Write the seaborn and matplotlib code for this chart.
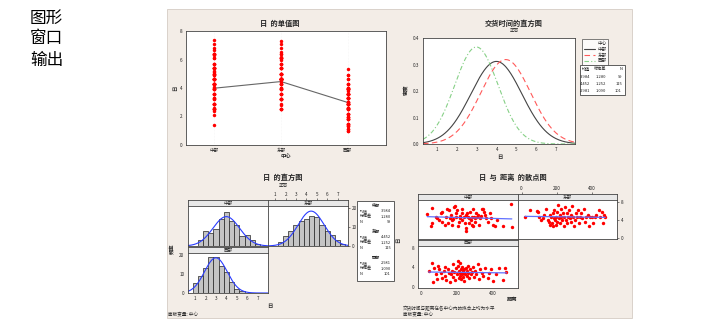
import numpy as np
import pandas as pd
import matplotlib
matplotlib.use("Agg")
import matplotlib.pyplot as plt
import seaborn as sns
from matplotlib.patches import Rectangle
from matplotlib.lines import Line2D

sns.set_theme(style="white")
plt.rcParams["font.family"] = ["Noto Sans CJK SC", "DejaVu Sans"]

# ---------------- data ----------------
centers = ["中部", "东部", "西部"]
means = [3.984, 4.452, 2.981]
sds = [1.280, 1.252, 1.090]
ns = [99, 115, 101]

hist_mid = [1.0, 1.5, 2.0, 2.5, 3.0, 3.5, 4.0, 4.5, 5.0, 5.5, 6.0, 6.5, 7.0, 7.5]
hist_central = [0, 3, 8, 7, 9, 14, 18, 13, 11, 5, 6, 3, 1, 0]
hist_eastern = [0, 2, 5, 8, 11, 13, 14, 16, 15, 11, 8, 6, 3, 1]
hist_western = [5, 9, 13, 19, 19, 14, 11, 6, 2, 1, 0, 0, 0, 0]

central_dist = [32, 60, 55, 57, 80, 88, 98, 108, 117, 117, 132, 136, 145, 155, 164, 170, 174, 183,
                188, 192, 196, 202, 208, 211, 220, 226, 230, 240, 245, 249, 253, 258, 264, 268, 272,
                277, 283, 287, 291, 296, 300, 304, 308, 313, 321, 325, 330, 340, 345, 355, 360, 366,
                377, 387, 395, 405, 415, 428, 460, 505, 510, 230, 250, 180, 160, 150, 270, 335, 290, 215]
central_days = [5.2, 6.7, 2.6, 3.3, 4.6, 4.3, 3.9, 5.4, 5.7, 3.6, 2.9, 4.6, 6.4, 6.1, 5.0, 3.9, 2.9, 6.8,
                7.1, 5.4, 4.6, 6.1, 2.5, 3.6, 4.3, 5.4, 6.4, 4.6, 3.2, 2.1, 1.4, 5.4, 4.6, 4.3, 5.7,
                3.9, 4.6, 2.9, 2.5, 4.6, 4.3, 3.6, 5.4, 4.6, 5.0, 2.9, 4.3, 6.4, 6.4, 5.7, 5.0, 4.3,
                3.6, 5.4, 4.3, 2.9, 2.5, 3.9, 2.5, 7.4, 2.4, 4.0, 5.1, 4.1, 4.3, 3.3, 3.2, 4.9, 6.3, 4.9]

eastern_dist = [20, 50, 90, 95, 100, 110, 120, 130, 140, 150, 155, 160, 165, 170, 175, 178, 180, 185,
                188, 190, 195, 198, 200, 205, 210, 212, 218, 220, 225, 228, 232, 238, 240, 245, 248,
                252, 258, 262, 266, 270, 275, 280, 285, 290, 295, 300, 305, 310, 318, 322, 330, 335,
                340, 348, 355, 360, 370, 378, 385, 392, 400, 410, 418, 425, 440, 450, 460, 465, 478, 470]
eastern_days = [4.6, 6.2, 6.0, 5.7, 4.6, 3.9, 4.4, 5.0, 6.5, 4.0, 3.6, 5.0, 2.8, 4.6, 3.2, 2.5, 5.4, 4.3,
                6.1, 3.9, 2.9, 4.6, 5.7, 3.6, 7.3, 4.3, 5.0, 3.2, 6.4, 4.6, 3.9, 5.4, 2.5, 4.6, 6.8,
                4.0, 5.4, 3.2, 4.6, 6.1, 4.3, 3.6, 5.0, 7.1, 4.6, 2.5, 3.9, 5.4, 4.6, 6.1, 3.2, 4.6,
                5.4, 4.3, 6.4, 3.6, 4.6, 5.0, 2.5, 4.6, 4.6, 3.2, 4.6, 5.0, 6.1, 4.6, 5.7, 3.2, 4.6, 5.0]

western_dist = [40, 60, 65, 70, 80, 85, 95, 100, 110, 118, 125, 130, 135, 140, 150, 155, 160, 165, 170,
                175, 180, 185, 190, 195, 200, 205, 208, 210, 212, 215, 218, 220, 222, 225, 228, 230,
                232, 235, 238, 240, 242, 245, 250, 255, 258, 262, 265, 270, 275, 280, 285, 290, 295,
                300, 310, 318, 325, 330, 340, 350, 360, 375, 380, 395, 405, 420, 440, 460, 480, 470]
western_days = [3.3, 4.9, 1.0, 3.9, 2.5, 1.5, 4.3, 3.6, 2.9, 1.8, 3.3, 4.0, 2.2, 1.4, 3.6, 2.9, 1.0, 2.5, 3.3,
                4.6, 2.0, 3.0, 1.3, 3.8, 2.6, 5.3, 4.3, 1.8, 3.3, 2.2, 4.9, 2.9, 3.6, 1.5, 2.5, 4.0,
                3.3, 2.0, 2.9, 3.6, 1.1, 2.6, 3.9, 3.3, 2.2, 4.3, 2.9, 1.8, 3.6, 2.5, 3.0, 4.0, 2.0,
                3.3, 2.6, 4.6, 1.5, 3.6, 2.9, 2.2, 3.9, 1.8, 2.9, 3.6, 1.1, 2.6, 3.9, 1.3, 3.0, 3.9]

# ---------------- layout helpers ----------------
W, H = 707, 332
fig = plt.figure(figsize=(W / 100, H / 100), dpi=100)
fig.patch.set_facecolor("white")


def box(l, t, r, b):
    return [l / W, 1 - b / H, (r - l) / W, (b - t) / H]


def ftext(x, y, s, **kw):
    fig.text(x / W, 1 - y / H, s, **kw)


fig.patches.append(Rectangle((167 / W, 1 - 318 / H), (632 - 167) / W, (318 - 9) / H,
                             transform=fig.transFigure, facecolor="#f3ede7",
                             edgecolor="#d5ccc4", lw=0.6, zorder=-5))

for i, s in enumerate(["图形", "窗口", "输出"]):
    ftext(30, 18 + i * 21, s, fontsize=12, va="center", ha="left", color="black",
          fontweight="medium")

TICK = 3.3
TITLE = 5.2


def style(ax):
    ax.set_facecolor("white")
    for sp in ax.spines.values():
        sp.set_color("#444444")
        sp.set_linewidth(0.6)
    ax.tick_params(labelsize=TICK, length=1.5, width=0.4, pad=1, colors="#222222")
    ax.set_xlabel("")
    ax.set_ylabel("")


def strip(l, t, r, b, label, xlim=None, xticks=None):
    sax = fig.add_axes(box(l, t, r, b))
    sax.set_facecolor("#e8e8e8")
    sax.set_yticks([])
    for sp in sax.spines.values():
        sp.set_color("#444444")
        sp.set_linewidth(0.6)
    if xticks is None:
        sax.set_xticks([])
    else:
        sax.set_xlim(*xlim)
        sax.set_xticks(xticks)
        sax.xaxis.tick_top()
        sax.tick_params(labelsize=TICK, length=1.5, width=0.4, pad=1, colors="#222222")
    sax.text(0.5, 0.5, label, ha="center", va="center", fontsize=TICK, transform=sax.transAxes)
    return sax


def npdf(x, m, s):
    return np.exp(-0.5 * ((x - m) / s) ** 2) / (s * np.sqrt(2 * np.pi))


# ---------------- panel 1: individual value plot ----------------
df = pd.DataFrame({
    "中心": ["中部"] * len(central_days) + ["东部"] * len(eastern_days) + ["西部"] * len(western_days),
    "日": central_days + eastern_days + western_days,
    "距离": central_dist + eastern_dist + western_dist,
})

ax1 = fig.add_axes(box(186, 31, 386, 145))
sns.stripplot(data=df, x="中心", y="日", order=centers, jitter=False, color="#ff0000",
              size=2.5, linewidth=0, ax=ax1)
ax1.plot(range(3), means, color="#666666", lw=0.8, zorder=1)
ax1.set_xlim(-0.42, 2.57)
ax1.set_ylim(0, 8)
ax1.set_yticks([0, 2, 4, 6, 8])
style(ax1)
for xv in range(3):
    ax1.axvline(xv, color="#eeeeee", lw=0.4, ls=":", zorder=0)
ftext(280, 23, "日  的单值图", fontsize=TITLE, fontweight="bold", ha="center", va="center")
ftext(286, 157, "中心", fontsize=TICK + 0.5, fontweight="bold", ha="center", va="center")
ftext(176, 88, "日", fontsize=TICK + 0.5, fontweight="bold", ha="center", va="center", rotation=90)

# ---------------- panel 2: fitted normal curves ----------------
ax2 = fig.add_axes(box(423, 38, 575, 144))
xs = np.linspace(0.3, 7.93, 200)
cols2 = ["#444444", "#ff5a5a", "#86d086"]
lss = ["-", (0, (5, 3)), (0, (4, 2, 1, 2))]
for c, m, s, col, ls in zip(centers, means, sds, cols2, lss):
    sns.lineplot(x=xs, y=npdf(xs, m, s), color=col, lw=0.8, linestyle=ls, ax=ax2)
ax2.set_xlim(0.3, 7.93)
ax2.set_ylim(0, 0.4)
ax2.set_xticks(range(1, 8))
ax2.set_yticks([0.0, 0.1, 0.2, 0.3, 0.4])
ax2.set_yticklabels(["0.0", "0.1", "0.2", "0.3", "0.4"])
style(ax2)
ftext(514, 23, "交货时间的直方图", fontsize=TITLE, fontweight="bold", ha="center", va="center")
ftext(514, 30.5, "正态", fontsize=TICK, ha="center", va="center")
ftext(500, 158, "日", fontsize=TICK + 0.5, fontweight="bold", ha="center", va="center")
ftext(406, 90, "密度", fontsize=TICK + 0.5, fontweight="bold", ha="center", va="center", rotation=90)

handles = [Line2D([], [], color=col, lw=0.8, linestyle=ls) for col, ls in zip(cols2, lss)]
leg = fig.legend(handles, centers, title="中心", loc="upper left",
                 bbox_to_anchor=(580 / W, 1 - 37 / H), fontsize=TICK, title_fontsize=TICK,
                 frameon=True, fancybox=False, borderpad=0.3, labelspacing=0.2,
                 handlelength=2.5, handletextpad=0.5, alignment="right")
leg.get_frame().set_edgecolor("#444444")
leg.get_frame().set_linewidth(0.6)

fig.patches.append(Rectangle((580 / W, 1 - 95 / H), 45 / W, 30 / H, transform=fig.transFigure,
                             facecolor="white", edgecolor="#444444", lw=0.6, zorder=1))
for j, hdr in enumerate(["均值", "标准差", "N"]):
    ftext([590, 606, 622][j], 69.5, hdr, fontsize=TICK - 0.3, ha="right", va="center")
for i in range(3):
    y = 77 + i * 7
    ftext(590, y, f"{means[i]:.3f}", fontsize=TICK - 0.3, ha="right", va="center")
    ftext(606, y, f"{sds[i]:.3f}", fontsize=TICK - 0.3, ha="right", va="center")
    ftext(622, y, f"{ns[i]}", fontsize=TICK - 0.3, ha="right", va="center")

# ---------------- panel 3: paneled histograms ----------------
ftext(283, 177, "日  的直方图", fontsize=TITLE, fontweight="bold", ha="center", va="center")
ftext(283, 185, "正态", fontsize=TICK, ha="center", va="center")

edges = [0.75 + 0.5 * i for i in range(15)]
hcounts = [hist_central, hist_eastern, hist_western]
hpos = [(188, 200, 206, 268, 246), (268, 200, 206, 348, 246), (188, 247, 253, 268, 293)]
xs3 = np.linspace(0.3, 8.0, 200)
for k, (l, ts, t, r, b) in enumerate(hpos):
    if k == 1:
        strip(l, ts, r, t, centers[k], xlim=(0.3, 8.0), xticks=list(range(1, 8)))
    else:
        strip(l, ts, r, t, centers[k])
    ax = fig.add_axes(box(l, t, r, b))
    hdf = pd.DataFrame({"mid": hist_mid, "count": hcounts[k]})
    sns.histplot(data=hdf, x="mid", weights="count", bins=edges, color="#c4c4c4",
                 edgecolor="#222222", linewidth=0.5, alpha=1, ax=ax)
    sns.lineplot(x=xs3, y=ns[k] * 0.5 * npdf(xs3, means[k], sds[k]), color="#2a3cff", lw=0.8, ax=ax)
    ax.set_xlim(0.3, 8.0)
    ax.set_ylim(0, 21)
    ax.set_xticks(range(1, 8))
    ax.set_yticks([0, 10, 20])
    style(ax)
    if k == 0:
        ax.tick_params(labelbottom=False, labelleft=False, bottom=False, left=False)
    elif k == 1:
        ax.yaxis.tick_right()
        ax.tick_params(bottom=False, labelbottom=False, labelsize=TICK, length=1.5, width=0.4, pad=1)
ftext(270, 307, "日", fontsize=TICK + 0.5, fontweight="bold", ha="center", va="center")
ftext(172, 249, "频率", fontsize=TICK + 0.5, fontweight="bold", ha="center", va="center", rotation=90)
ftext(168, 315, "面板变量: 中心", fontsize=TICK, ha="left", va="center")

fig.patches.append(Rectangle((357 / W, 1 - 281 / H), 37 / W, 80 / H, transform=fig.transFigure,
                             facecolor="white", edgecolor="#444444", lw=0.6, zorder=1))
for i in range(3):
    y0 = 205 + i * 26
    ftext(376, y0, centers[i], fontsize=TICK - 0.3, fontweight="bold", ha="center", va="center")
    for j, (lab, val) in enumerate([("均值", f"{means[i]:.3f}"), ("标准差", f"{sds[i]:.3f}"),
                                    ("N", f"{ns[i]}")]):
        ftext(360, y0 + 6 + j * 5.5, lab, fontsize=TICK - 0.4, ha="left", va="center")
        ftext(391, y0 + 6 + j * 5.5, val, fontsize=TICK - 0.4, ha="right", va="center")

# ---------------- panel 4: paneled scatter ----------------
ftext(513, 177, "日  与  距离  的散点图", fontsize=TITLE, fontweight="bold", ha="center", va="center")
spos = [(418, 194, 200, 518, 239), (518, 194, 200, 617, 239), (418, 240, 246, 518, 288)]
for k, (l, ts, t, r, b) in enumerate(spos):
    if k == 1:
        strip(l, ts, r, t, centers[k], xlim=(-20, 545), xticks=[0, 200, 400])
    else:
        strip(l, ts, r, t, centers[k])
    ax = fig.add_axes(box(l, t, r, b))
    sub = df[df["中心"] == centers[k]]
    sns.scatterplot(data=sub, x="距离", y="日", color="#ff0000", s=6, linewidth=0, ax=ax)
    sns.regplot(data=sub, x="距离", y="日", scatter=False, ci=None, color="#6070ff",
                line_kws={"lw": 0.9}, ax=ax)
    ax.set_xlim(-20, 545)
    ax.set_ylim(-0.3, 8.4)
    ax.set_xticks([0, 200, 400])
    ax.set_yticks([0, 4, 8])
    style(ax)
    if k == 0:
        ax.tick_params(labelbottom=False, labelleft=False, bottom=False, left=False)
    elif k == 1:
        ax.yaxis.tick_right()
        ax.tick_params(bottom=False, labelbottom=False, labelsize=TICK, length=1.5, width=0.4, pad=1)
ftext(512, 299, "距离", fontsize=TICK + 0.5, fontweight="bold", ha="center", va="center")
ftext(399, 240, "日", fontsize=TICK + 0.5, fontweight="bold", ha="center", va="center", rotation=90)
ftext(403, 309, "交货时间与距离在各中心内的拟合上均为水平", fontsize=TICK, ha="left", va="center")
ftext(403, 315, "面板变量: 中心", fontsize=TICK, ha="left", va="center")

fig.savefig("out.png", dpi=100, facecolor="white")
